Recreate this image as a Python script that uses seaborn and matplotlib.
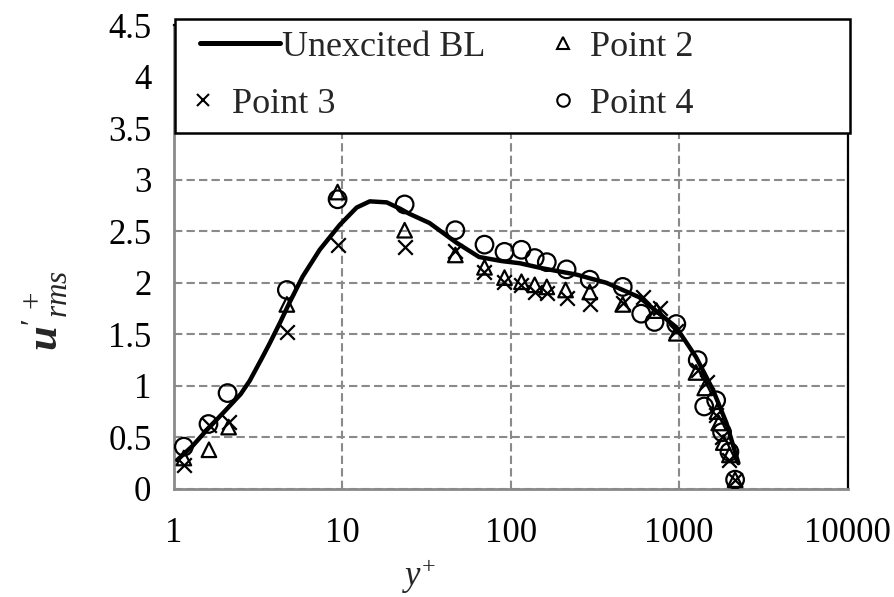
import matplotlib
matplotlib.use("Agg")
import matplotlib.pyplot as plt
from matplotlib.lines import Line2D
from matplotlib.patches import Rectangle
from matplotlib.ticker import FixedLocator, FixedFormatter, NullLocator
import seaborn as sns
import pandas as pd

# Unexcited boundary layer profile
bl_yplus = [1.05, 1.3, 1.57, 2.0, 2.5, 2.83, 3.37, 3.71, 4.3, 4.88, 5.83, 7.36, 9.66,
            12.2, 14.6, 18.4, 22, 25, 33, 47.6, 65, 89, 113, 155, 245, 370, 580,
            960, 1260, 1590, 1910, 2250]
bl_urms = [0.28, 0.42, 0.57, 0.75, 0.92, 1.05, 1.28, 1.41, 1.62, 1.81, 2.06, 2.32, 2.56,
           2.73, 2.79, 2.78, 2.72, 2.67, 2.58, 2.39, 2.25, 2.21, 2.19, 2.14, 2.08, 2.0, 1.86,
           1.57, 1.28, 0.96, 0.64, 0.25]

# Point 2
p2_yplus = [1.15, 1.62, 2.12, 4.7, 9.4, 23.5, 47, 70, 92, 116, 139, 164, 212, 295, 463,
            735, 963, 1260, 1420, 1680, 1720, 1830, 1990, 2150]
p2_urms = [0.30, 0.38, 0.60, 1.79, 2.88, 2.51, 2.27, 2.15, 2.05, 2.01, 1.98, 1.96, 1.93,
           1.91, 1.79, 1.73, 1.51, 1.13, 0.98, 0.75, 0.64, 0.45, 0.33, 0.09]

# Point 3
p3_yplus = [1.15, 1.62, 2.12, 4.7, 9.5, 23.5, 47, 70, 92, 116, 139, 164, 215, 295, 463,
            607, 771, 963, 1300, 1470, 1660, 1800, 1990, 2150]
p3_urms = [0.23, 0.62, 0.65, 1.52, 2.37, 2.35, 2.31, 2.10, 2.01, 1.98, 1.91, 1.90, 1.85,
           1.79, 1.80, 1.86, 1.76, 1.53, 1.15, 1.04, 0.72, 0.50, 0.28, 0.09]

# Point 4
p4_yplus = [1.15, 1.61, 2.09, 4.7, 9.4, 23.5, 47, 70, 92, 116, 139, 164, 215, 295, 463,
            596, 715, 963, 1290, 1410, 1660, 1800, 1990, 2150]
p4_urms = [0.41, 0.63, 0.93, 1.93, 2.81, 2.76, 2.51, 2.37, 2.30, 2.32, 2.24, 2.20, 2.13,
           2.03, 1.96, 1.70, 1.62, 1.60, 1.25, 0.80, 0.86, 0.55, 0.36, 0.09]

x_ticks = [1, 10, 100, 1000, 10000]
x_tick_labels = ["1", "10", "100", "1000", "10000"]
y_ticks = [0, 0.5, 1, 1.5, 2, 2.5, 3, 3.5, 4, 4.5]
y_tick_labels = ["0", "0.5", "1", "1.5", "2", "2.5", "3", "3.5", "4", "4.5"]

sns.set_theme(style="white")
plt.rcParams["font.family"] = ["Liberation Serif", "DejaVu Serif"]
plt.rcParams["mathtext.fontset"] = "custom"
plt.rcParams["mathtext.rm"] = "Liberation Serif"
plt.rcParams["mathtext.it"] = "Liberation Serif:italic"
plt.rcParams["mathtext.bf"] = "Liberation Serif:bold:italic"

W, H = 895, 597
fig = plt.figure(figsize=(W / 100, H / 100), dpi=100)
ax = fig.add_axes([0.194, 0.181, 0.753, 0.777])

bl = pd.DataFrame({"yplus": bl_yplus, "urms": bl_urms})
sns.lineplot(data=bl, x="yplus", y="urms", ax=ax, color="black", linewidth=3.2,
             sort=False, zorder=4)

p2 = pd.DataFrame({"yplus": p2_yplus, "urms": p2_urms})
p3 = pd.DataFrame({"yplus": p3_yplus, "urms": p3_urms})
p4 = pd.DataFrame({"yplus": p4_yplus, "urms": p4_urms})

sns.scatterplot(data=p2, x="yplus", y="urms", ax=ax, marker="^", s=110,
                facecolor="none", edgecolor="black", linewidth=1.6, zorder=5)
sns.scatterplot(data=p3, x="yplus", y="urms", ax=ax, marker="x", s=110,
                color="black", linewidth=1.6, zorder=5)
sns.scatterplot(data=p4, x="yplus", y="urms", ax=ax, marker="o", s=160,
                facecolor="none", edgecolor="black", linewidth=1.6, zorder=5)

ax.set_xscale("log")
ax.set_xlim(1, 10000)
ax.set_ylim(0, 4.5)
ax.xaxis.set_major_locator(FixedLocator(x_ticks))
ax.xaxis.set_major_formatter(FixedFormatter(x_tick_labels))
ax.xaxis.set_minor_locator(NullLocator())
ax.yaxis.set_major_locator(FixedLocator(y_ticks))
ax.yaxis.set_major_formatter(FixedFormatter(y_tick_labels))
ax.tick_params(axis="both", length=0, labelsize=25, colors="black")
ax.tick_params(axis="x", pad=20)
ax.tick_params(axis="y", pad=16)

ax.grid(True, which="major", color="#8a8a8a", linestyle=(0, (4, 2)), linewidth=1.5)
ax.set_axisbelow(True)
ax.set_xlabel("")
ax.set_ylabel("")

for side in ("left", "bottom"):
    ax.spines[side].set_color("#8a8a8a")
    ax.spines[side].set_linewidth(2)
for side in ("right", "top"):
    ax.spines[side].set_color("black")
    ax.spines[side].set_linewidth(1.6)

# Legend box: white panel with a black border spanning the plot width
fig.patches.append(Rectangle((175 / W, 1 - 133 / H), 675 / W, 114 / H,
                             transform=fig.transFigure, facecolor="white",
                             edgecolor="black", linewidth=1.8, zorder=2))

LEG_FS = 26
em = LEG_FS * 100 / 72  # pixels per em


def legend_entry(handle, label, x_handle_px, y_px, handle_px, pad_px):
    leg = fig.legend([handle], [label], loc="center left",
                     bbox_to_anchor=(x_handle_px / W, 1 - y_px / H),
                     bbox_transform=fig.transFigure, frameon=False,
                     fontsize=LEG_FS, borderpad=0, borderaxespad=0,
                     handlelength=handle_px / em, handletextpad=pad_px / em)
    leg.set_zorder(5)
    return leg


legend_entry(Line2D([], [], color="black", linewidth=3.6),
             "Unexcited BL", 200, 47, 80, 2)
legend_entry(Line2D([], [], color="black", marker="^", linestyle="none", markersize=8.5,
                    markerfacecolor="none", markeredgewidth=1.5),
             "Point 2", 552, 47, 22, 16)
legend_entry(Line2D([], [], color="black", marker="x", linestyle="none", markersize=8,
                    markeredgewidth=1.5),
             "Point 3", 192, 104, 22, 18)
legend_entry(Line2D([], [], color="black", marker="o", linestyle="none", markersize=9,
                    markerfacecolor="none", markeredgewidth=1.5),
             "Point 4", 552, 104, 22, 16)

fig.text(0.468, 0.035, r"$y^{+}$", fontsize=25, ha="center", va="center")
fig.text(0.05, 0.48, r"$\mathbf{u}'^{\,+}_{rms}$", fontsize=32, ha="center",
         va="center", rotation=90)

fig.savefig("out.png", dpi=100)
